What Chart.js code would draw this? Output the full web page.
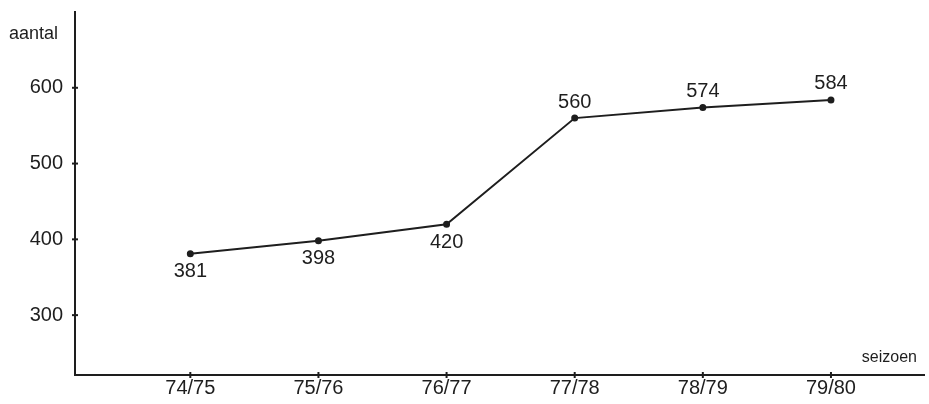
<!DOCTYPE html>
<html>
<head>
<meta charset="utf-8">
<script src="https://cdn.jsdelivr.net/npm/chart.js@4/dist/chart.umd.min.js"></script>
<style>
  html, body { margin: 0; padding: 0; background: #fff; }
  #wrap { width: 929px; height: 404px; }
</style>
</head>
<body>
<div id="wrap"><canvas id="seasonChart"></canvas></div>
<script>
const seasons = ["74/75", "75/76", "76/77", "77/78", "78/79", "79/80"];
const counts = [381, 398, 420, 560, 574, 584];
const yTicks = [300, 400, 500, 600];
// label below (1) or above (-1) the point
const labelSide = [1, 1, 1, -1, -1, -1];

const ink = '#1e1e1e';
const font = "'Liberation Sans', Arial, sans-serif";

// small tick marks crossing the axes + axis names + value labels
const extras = {
  id: 'extras',
  afterDraw(chart) {
    const c = chart.ctx;
    const xs = chart.scales.x, ys = chart.scales.y;
    const area = chart.chartArea;
    c.save();
    c.strokeStyle = ink;
    c.lineWidth = 2;
    yTicks.forEach(v => {
      const py = ys.getPixelForValue(v);
      c.beginPath();
      c.moveTo(area.left - 3, py);
      c.lineTo(area.left + 3, py);
      c.stroke();
    });
    seasons.forEach((s, i) => {
      const px = xs.getPixelForValue(i);
      c.beginPath();
      c.moveTo(px, area.bottom - 3);
      c.lineTo(px, area.bottom + 3);
      c.stroke();
    });

    c.fillStyle = ink;
    c.font = '18px ' + font;
    c.textBaseline = 'middle';
    c.textAlign = 'left';
    c.fillText('aantal', 9, 34);
    c.font = '16px ' + font;
    c.textAlign = 'right';
    c.fillText('seizoen', 917, 358);

    c.font = '20px ' + font;
    c.textAlign = 'center';
    const meta = chart.getDatasetMeta(0);
    meta.data.forEach((pt, i) => {
      const dy = labelSide[i] > 0 ? 18 : -16;
      c.fillText(String(counts[i]), pt.x, pt.y + dy);
    });
    c.restore();
  }
};

new Chart(document.getElementById('seasonChart'), {
  type: 'line',
  data: {
    datasets: [{
      data: counts.map((v, i) => ({ x: i, y: v })),
      borderColor: ink,
      backgroundColor: ink,
      borderWidth: 2,
      pointRadius: 2.5,
      pointHoverRadius: 2.5,
      tension: 0,
      fill: false
    }]
  },
  options: {
    responsive: true,
    maintainAspectRatio: false,
    animation: false,
    events: [],
    layout: { padding: { top: 12, right: 2, left: 0, bottom: 0 } },
    plugins: {
      legend: { display: false },
      tooltip: { enabled: false }
    },
    scales: {
      x: {
        type: 'linear',
        min: -0.9,
        max: 5.73,
        afterBuildTicks: s => { s.ticks = seasons.map((_, i) => ({ value: i })); },
        afterFit: s => { s.height = 29; },
        grid: { display: false, drawTicks: false, tickLength: 0 },
        border: { display: true, color: ink, width: 2 },
        ticks: {
          color: ink,
          font: { family: font, size: 20 },
          padding: 1,
          maxRotation: 0,
          autoSkip: false,
          callback: v => seasons[v]
        }
      },
      y: {
        min: 221,
        max: 700,
        afterBuildTicks: s => { s.ticks = yTicks.map(v => ({ value: v })); },
        afterFit: s => { s.width = 75; s.paddingTop = 0; s.paddingBottom = 0; },
        grid: { display: false, drawTicks: false, tickLength: 0 },
        border: { display: true, color: ink, width: 2 },
        ticks: {
          color: ink,
          font: { family: font, size: 20 },
          padding: 12
        }
      }
    }
  },
  plugins: [extras]
});
</script>
</body>
</html>
